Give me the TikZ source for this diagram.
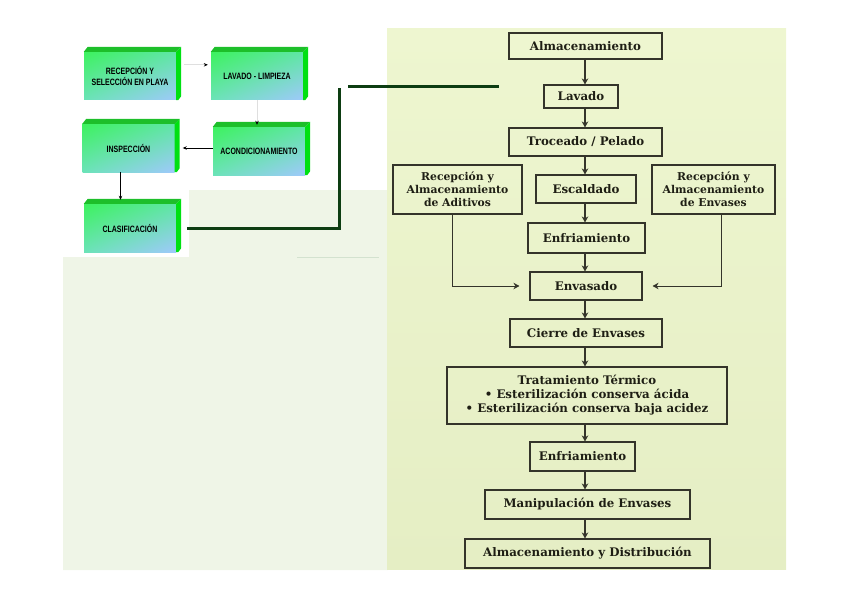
\documentclass[tikz,border=0pt]{standalone}
\usepackage{fontspec}
\setmainfont{DejaVu Serif}
\newfontfamily\boxfont{Liberation Sans}[FakeStretch=0.76]
\usetikzlibrary{arrows.meta,calc,shadings}
\definecolor{gUL}{HTML}{3DF25E}
\definecolor{gUR}{HTML}{5FE6A6}
\definecolor{gLL}{HTML}{6BE3B8}
\definecolor{gLR}{HTML}{9FC9FB}
\definecolor{gTop}{HTML}{1DBF2A}
\definecolor{gSide}{HTML}{00E012}
\definecolor{panelL}{HTML}{EFF5E7}
\definecolor{panelTop}{HTML}{EEF6D0}
\definecolor{panelBot}{HTML}{E5EEC4}
\definecolor{boxline}{HTML}{34342A}
\definecolor{txt}{HTML}{1E1E14}
\definecolor{dgreen}{HTML}{0D3D12}
\definecolor{faintl}{HTML}{D3E2CF}
\begin{document}
\begin{tikzpicture}[x=1pt,y=-1pt,
  gbox/.style={minimum width=92pt, minimum height=48pt, inner sep=0pt,
    upper left=gUL, upper right=gUR, lower left=gLL, lower right=gLR,
    font=\boxfont\bfseries\fontsize{9.2}{11}\selectfont, align=center, text=black},
  fbox/.style={draw=boxline, line width=1.1pt, inner sep=0pt, text=txt,
    font=\bfseries\fontsize{11.8}{14}\selectfont, align=center},
  sbox/.style={fbox, font=\bfseries\fontsize{10.8}{12.8}\selectfont},
  arr/.style={draw=boxline, line width=1.1pt, -{Stealth[length=6pt,width=6.5pt]}},
  sarr/.style={draw=boxline, line width=0.9pt, -{Stealth[length=6pt,width=6.5pt]}, shorten >=10pt},
  larr/.style={draw=black, line width=0.8pt, -{Stealth[length=4pt,width=3.5pt]}},
  farr/.style={draw=gray!25, line width=0.8pt, -{Stealth[length=4pt,width=3.5pt,black]}},
  gline/.style={draw=dgreen, line width=3pt}]
\useasboundingbox (0,0) rectangle (848,599);
% panels
\fill[panelL] (189,190) -- (388,190) -- (388,570) -- (63,570) -- (63,257) -- (189,257) -- cycle;
\shade[top color=panelTop, bottom color=panelBot] (387,29) rectangle (786,569);
\draw[faintl, line width=1pt] (297,257.5) -- (379,257.5);

% left 3D boxes
\newcommand{\gcube}[4]{%
  \node[gbox] (#1) at (#2,#3) {#4};
  \fill[gTop] (#1.north west) -- ($(#1.north west)+(4,-5)$) -- ($(#1.north east)+(5,-5)$) -- (#1.north east) -- cycle;
  \fill[gSide] (#1.north east) -- ($(#1.north east)+(5,-5)$) -- ($(#1.south east)+(5,-4)$) -- ($(#1.south east)+(2,0)$) -- (#1.south east) -- cycle;
}
\gcube{rec}{130}{76}{RECEPCIÓN Y\\SELECCIÓN EN PLAYA}
\gcube{lavl}{257}{76}{LAVADO - LIMPIEZA}
\gcube{insp}{128.5}{148}{INSPECCIÓN}
\gcube{acond}{259}{151}{ACONDICIONAMIENTO}
\gcube{clas}{130}{228}{CLASIFICACIÓN}

\coordinate (vx) at (120.5,0);
\draw[farr] ($(rec.north east)+(8,13)$) -- ($(lavl.north west)+(-3,13)$);
\draw[farr] (lavl.south) -- ($(acond.north)+(-2,-2)$);
\draw[larr] (acond.west |- insp.east) -- ($(insp.east)+(8,0)$);
\draw[larr] (insp.south -| vx) -- ($(clas.north -| vx)+(0,-4)$);

% thick connector
\coordinate (c1) at (339,228);
\coordinate (c2) at (339,88);
\coordinate (c3) at (348,87);
\coordinate (c4) at (499,87);
\draw[gline] ($(clas.east)+(11,0)$) -- (c1) -- (c2);
\draw[gline] (c3) -- (c4);

% right flowchart
\node[fbox, minimum width=153pt, minimum height=26pt] (alm) at (585.5,46) {Almacenamiento};
\node[fbox, minimum width=74pt, minimum height=23pt] (lav) at (581,96.5) {Lavado};
\node[fbox, minimum width=153pt, minimum height=28pt] (troc) at (585.5,142) {Troceado / Pelado};
\node[fbox, minimum width=100pt, minimum height=28pt] (esc) at (586,189) {Escaldado};
\node[sbox, minimum width=129pt, minimum height=49pt] (adit) at (457.5,189.5) {Recepción y\\Almacenamiento\\de Aditivos};
\node[sbox, minimum width=123pt, minimum height=49pt] (envs) at (713.5,189.5) {Recepción y\\Almacenamiento\\de Envases};
\node[fbox, minimum width=117pt, minimum height=30pt] (enf) at (586.5,238) {Enfriamiento};
\node[fbox, minimum width=112pt, minimum height=28pt] (envas) at (586,286) {Envasado};
\node[fbox, minimum width=152pt, minimum height=28pt] (cierre) at (586,333) {Cierre de Envases};
\node[fbox, minimum width=280pt, minimum height=57pt] (trat) at (587,395.5) {Tratamiento Térmico\\• Esterilización conserva ácida\\• Esterilización conserva baja acidez};
\node[fbox, minimum width=105pt, minimum height=29pt] (enf2) at (582.5,456.5) {Enfriamiento};
\node[fbox, minimum width=205pt, minimum height=29pt] (manip) at (587.5,504.5) {Manipulación de Envases};
\node[fbox, minimum width=245pt, minimum height=29pt] (almd) at (587.5,553.5) {Almacenamiento y Distribución};

\coordinate (ax) at (585,0);
\draw[arr] (alm.south -| ax) -- (lav.north -| ax);
\draw[arr] (lav.south -| ax) -- (troc.north -| ax);
\draw[arr] (troc.south -| ax) -- (esc.north -| ax);
\draw[arr] (esc.south -| ax) -- (enf.north -| ax);
\draw[arr] (enf.south -| ax) -- (envas.north -| ax);
\draw[arr] (envas.south -| ax) -- (cierre.north -| ax);
\draw[arr] (cierre.south -| ax) -- (trat.north -| ax);
\draw[arr] (trat.south -| ax) -- (enf2.north -| ax);
\draw[arr] (enf2.south -| ax) -- (manip.north -| ax);
\draw[arr] (manip.south -| ax) -- (almd.north -| ax);

\coordinate (lx) at (452,0);
\coordinate (rx) at (721,0);
\draw[sarr] (adit.south -| lx) |- (envas.west);
\draw[sarr] (envs.south -| rx) |- (envas.east);
\end{tikzpicture}
\end{document}
